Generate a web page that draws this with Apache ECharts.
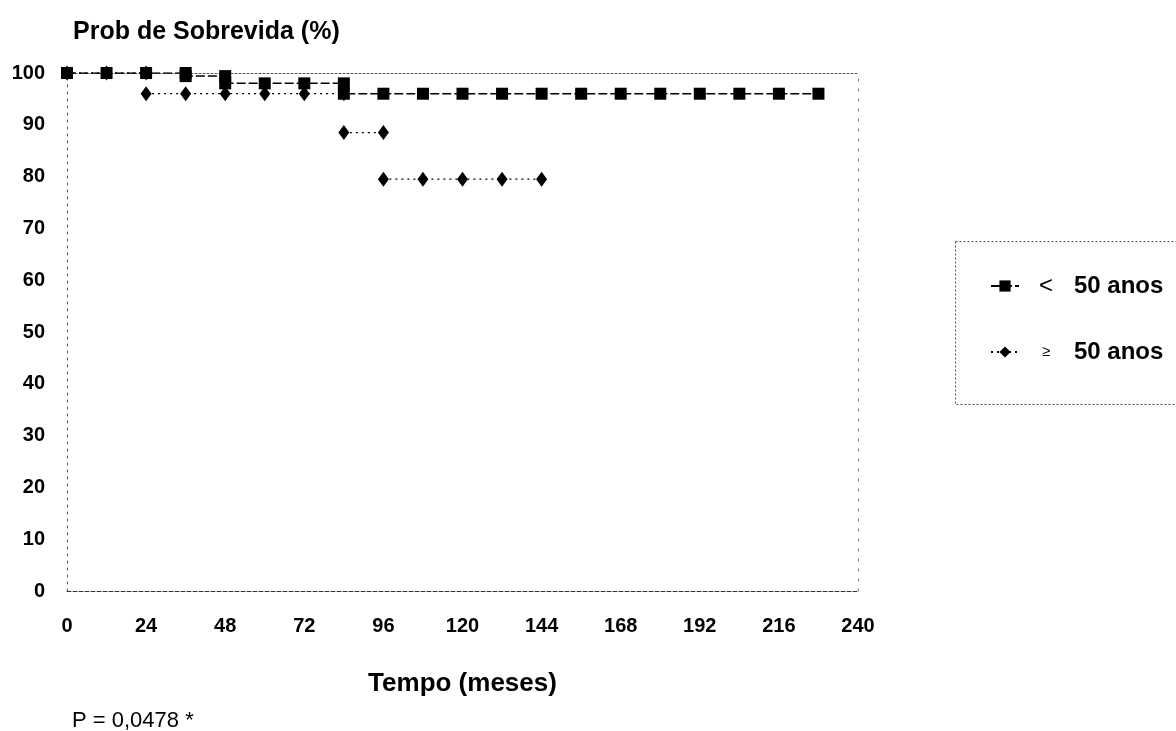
<!DOCTYPE html>
<html>
<head>
<meta charset="utf-8">
<script src="https://cdn.jsdelivr.net/npm/echarts@6/dist/echarts.min.js"></script>
<style>
html,body{margin:0;padding:0;background:#fff;}
#chart{width:1176px;height:731px;}
</style>
</head>
<body>
<div id="chart"></div>
<script>
// ---- data ----
const seriesNames = ['<  50 anos', '≥ 50 anos'];
const under50Months = [0, 12, 24, 36, 36, 48, 48, 60, 72, 84, 84, 96, 108, 120, 132, 144, 156, 168, 180, 192, 204, 216, 228];
const under50Surv   = [100, 100, 100, 100, 99.4, 99.4, 98, 98, 98, 98, 96, 96, 96, 96, 96, 96, 96, 96, 96, 96, 96, 96, 96];
const over50Months  = [0, 12, 24, 24, 36, 48, 60, 72, 84, 84, 96, 96, 108, 120, 132, 144];
const over50Surv    = [100, 100, 100, 96, 96, 96, 96, 96, 96, 88.5, 88.5, 79.5, 79.5, 79.5, 79.5, 79.5];
const over50SegmentStarts = [0, 3, 9, 11];
const yTickMax = 100, xTickMax = 240;
const titleText = 'Prob de Sobrevida (%)';
const xAxisTitle = 'Tempo (meses)';
const pValueText = 'P = 0,0478 *';

// ---- build ----
const FONT = 'Liberation Sans, Arial, sans-serif';
const under50Data = under50Months.map((m, i) => [m, under50Surv[i]]);
const over50Segments = over50SegmentStarts.map((s, k) => {
  const e = k + 1 < over50SegmentStarts.length ? over50SegmentStarts[k + 1] : over50Months.length;
  const seg = [];
  for (let i = s; i < e; i++) seg.push([over50Months[i], over50Surv[i]]);
  return seg;
});

const over50Series = over50Segments.map(seg => ({
  name: seriesNames[1],
  type: 'line',
  data: seg,
  symbol: 'diamond',
  symbolSize: [11, 15],
  itemStyle: {color: '#000'},
  lineStyle: {color: '#000', width: 1.3, type: [2, 4]},
  z: 2,
  animation: false
}));

const chart = echarts.init(document.getElementById('chart'));
chart.setOption({
  backgroundColor: '#fff',
  animation: false,
  title: {
    text: titleText,
    left: 68, top: 15,
    textStyle: {fontFamily: FONT, fontSize: 25, fontWeight: 'bold', color: '#000'}
  },
  grid: {left: 67, top: 73, right: 318, bottom: 140, containLabel: false},
  legend: {
    orient: 'vertical',
    left: 985, top: 269,
    itemGap: 42,
    itemWidth: 28, itemHeight: 14,
    data: seriesNames,
    formatter: function (name) {
      if (name.indexOf('≥') === 0) return '{sym|≥}{t|50 anos}';
      return '{lt|<}{t|50 anos}';
    },
    textStyle: {
      fontFamily: FONT, color: '#000',
      rich: {
        sym: {fontSize: 15, fontFamily: FONT, color: '#000', width: 44, align: 'center'},
        lt: {fontSize: 24, fontFamily: FONT, color: '#000', width: 44, align: 'center'},
        t: {fontSize: 24, fontWeight: 'bold', fontFamily: FONT, color: '#000', padding: [0, 0, 0, 6]}
      }
    }
  },
  graphic: [
    {
      type: 'rect', left: 953, top: 239,
      shape: {x: 0, y: 0, width: 240, height: 163},
      style: {fill: 'none', stroke: '#555', lineWidth: 1, lineDash: [2, 2]},
      silent: true
    },
    {
      type: 'text', left: 72, top: 710,
      style: {text: pValueText, font: '22px ' + FONT, fill: '#000'}
    }
  ],
  xAxis: [
    {
      type: 'value', min: 0, max: xTickMax, interval: 24,
      name: xAxisTitle, nameLocation: 'middle', nameGap: 80,
      nameTextStyle: {fontFamily: FONT, fontSize: 26, fontWeight: 'bold', color: '#000'},
      axisLine: {show: true, lineStyle: {color: '#333', width: 1, type: [4, 2]}},
      axisTick: {show: false},
      splitLine: {show: false},
      axisLabel: {margin: 25, fontFamily: FONT, fontSize: 20, fontWeight: 'bold', color: '#000'}
    },
    {
      type: 'value', min: 0, max: xTickMax, position: 'top',
      axisLine: {show: true, onZero: false, lineStyle: {color: '#555', width: 1, type: [2, 2]}},
      axisTick: {show: false}, axisLabel: {show: false}, splitLine: {show: false}
    }
  ],
  yAxis: [
    {
      type: 'value', min: 0, max: yTickMax, interval: 10,
      axisLine: {show: true, lineStyle: {color: '#555', width: 1, type: [2, 5]}},
      axisTick: {show: false},
      splitLine: {show: false},
      axisLabel: {margin: 22, fontFamily: FONT, fontSize: 20, fontWeight: 'bold', color: '#000'}
    },
    {
      type: 'value', min: 0, max: yTickMax, position: 'right',
      axisLine: {show: true, onZero: false, lineStyle: {color: '#777', width: 1, type: [2, 8]}},
      axisTick: {show: false}, axisLabel: {show: false}, splitLine: {show: false}
    }
  ],
  series: [
    ...over50Series,
    {
      name: seriesNames[0],
      type: 'line',
      data: under50Data,
      symbol: 'rect',
      symbolSize: 12,
      itemStyle: {color: '#000'},
      lineStyle: {color: '#000', width: 1.5, type: [9, 3]},
      z: 3,
      animation: false
    }
  ]
});
</script>
</body>
</html>
